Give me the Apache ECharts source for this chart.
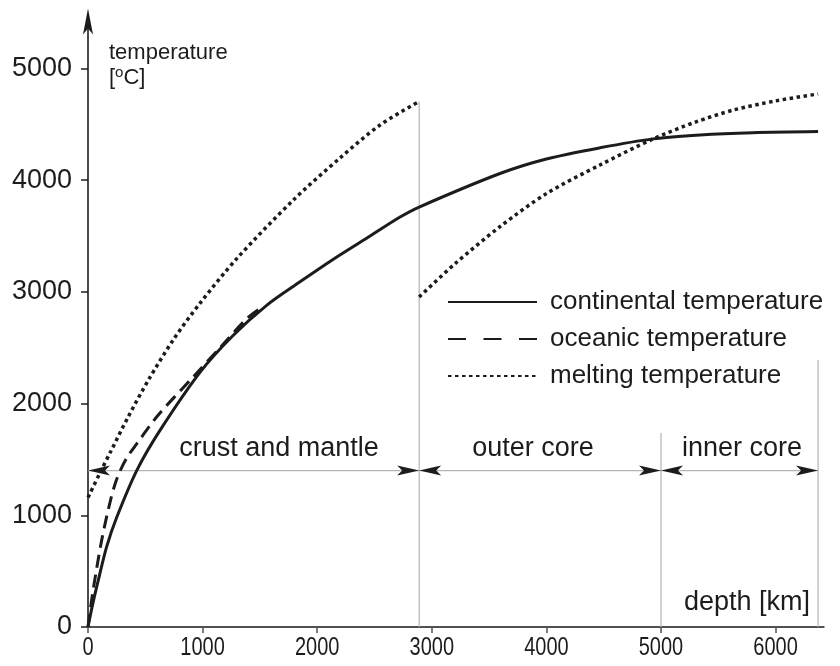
<!DOCTYPE html>
<html>
<head>
<meta charset="utf-8">
<script src="https://cdn.jsdelivr.net/npm/echarts@6/dist/echarts.min.js"></script>
<style>
  html, body { margin: 0; padding: 0; background: #fff; }
  #chart { width: 840px; height: 666px; }
</style>
</head>
<body>
<div id="chart"></div>
<script>
// Temperature profile through the Earth: depth in km, temperature in °C.
const depthTicks = [0, 1000, 2000, 3000, 4000, 5000, 6000];
const tempTicks = [0, 1000, 2000, 3000, 4000, 5000];

const continentalDepth = [0, 40, 90, 163, 250, 425, 628, 977, 1266, 1559, 1850, 2138, 2431, 2723, 2890, 3595, 4000, 4467, 4930, 5340, 5800, 6371];
const continentalTemp  = [0, 200, 420, 720, 980, 1400, 1760, 2280, 2610, 2880, 3090, 3290, 3480, 3670, 3760, 4060, 4190, 4290, 4370, 4405, 4425, 4435];

const oceanicDepth = [0, 40, 120, 200, 253, 330, 425, 615, 919, 1152, 1385, 1500];
const oceanicTemp  = [0, 300, 780, 1150, 1330, 1500, 1640, 1900, 2240, 2500, 2760, 2850];

const mantleMeltDepth = [0, 100, 200, 350, 530, 750, 977, 1300, 1792, 2200, 2548, 2890];
const mantleMeltTemp  = [1160, 1370, 1575, 1880, 2216, 2580, 2898, 3300, 3823, 4200, 4494, 4705];

const coreMeltDepth = [2890, 3200, 3595, 4000, 4467, 4930, 5300, 5630, 6000, 6371];
const coreMeltTemp  = [2954, 3250, 3584, 3880, 4136, 4369, 4520, 4628, 4710, 4772];

// Layer boundaries (depth) and how far up each boundary line reaches (temperature)
const boundaryDepth = [2890, 5000, 6371];
const boundaryTop = [4705, 1737, 2390];
// Level of the horizontal dimension line marking the layers
const layerLineTemp = 1400;
// Arrowheads on the dimension line: depth of the tip, direction (-1 left, +1 right)
const arrowDepth = [0, 2890, 2890, 5000, 5000, 6371];
const arrowDir = [-1, 1, -1, 1, -1, 1];

const layerNames = ['crust and mantle', 'outer core', 'inner core'];
const seriesNames = ['continental temperature', 'oceanic temperature', 'melting temperature'];

const ARIAL = "'Liberation Sans', Arial, Helvetica, sans-serif";
const INK = '#1e1b1c';
const GREY = '#b4b4b4';

const zip = (xs, ys) => xs.map((x, i) => [x, ys[i]]);

const chart = echarts.init(document.getElementById('chart'), null, { renderer: 'canvas' });

const greyLines = boundaryDepth.map((d, i) => ({
  type: 'line', silent: true, symbol: 'none', z: 1,
  lineStyle: { color: GREY, width: 1.2 },
  data: [[d, 0], [d, boundaryTop[i]]]
}));
greyLines.push({
  type: 'line', silent: true, symbol: 'none', z: 1,
  lineStyle: { color: GREY, width: 1.4 },
  data: [[0, layerLineTemp], [boundaryDepth[boundaryDepth.length - 1], layerLineTemp]]
});

const curve = (name, xs, ys, z, lineStyle) => ({
  name, type: 'line', symbol: 'none', smooth: 0.3, z,
  lineStyle: Object.assign({ color: INK }, lineStyle),
  itemStyle: { color: INK },
  data: zip(xs, ys)
});
const dotted = { width: 3.5, type: [3.5, 3.5], cap: 'butt' };

const staticText = [
  {
    type: 'text', left: 109, top: 40, silent: true,
    style: {
      text: 'temperature\n[{sup|o}C]',
      font: '22px ' + ARIAL, fill: INK, lineHeight: 25,
      rich: { sup: { fontSize: 15, fontFamily: ARIAL, verticalAlign: 'top', lineHeight: 25, fill: INK } }
    }
  },
  { type: 'text', silent: true, style: { text: layerNames[0], x: 279, y: 449, font: '27px ' + ARIAL, fill: INK, align: 'center', verticalAlign: 'middle' } },
  { type: 'text', silent: true, style: { text: layerNames[1], x: 533, y: 449, font: '27px ' + ARIAL, fill: INK, align: 'center', verticalAlign: 'middle' } },
  { type: 'text', silent: true, style: { text: layerNames[2], x: 742, y: 449, font: '27px ' + ARIAL, fill: INK, align: 'center', verticalAlign: 'middle' } },
  { type: 'text', silent: true, style: { text: 'depth [km]', x: 810, y: 603, font: '27px ' + ARIAL, fill: INK, align: 'right', verticalAlign: 'middle' } }
];

const option = {
  backgroundColor: '#fff',
  animation: false,
  grid: { left: 88, right: 16.3, top: 21.6, bottom: 39, containLabel: false },
  xAxis: {
    type: 'value', min: 0, max: 6420, interval: 1000,
    splitLine: { show: false },
    axisLine: { lineStyle: { color: '#505050', width: 2 } },
    axisTick: { length: 6, customValues: depthTicks, lineStyle: { color: '#505050', width: 1.5 } },
    // depth labels are drawn condensed below, positioned with the axis scale
    axisLabel: { show: false }
  },
  yAxis: {
    type: 'value', min: 0, max: 5420, interval: 1000,
    splitLine: { show: false },
    axisLine: {
      onZero: false,
      lineStyle: { color: INK, width: 1.6 },
      symbol: ['none', 'path://M5,0 L10,26 L5,20 L0,26 Z'],
      symbolSize: [10, 26]
    },
    axisTick: { length: 7, customValues: tempTicks, lineStyle: { color: INK, width: 1.5 } },
    axisLabel: {
      customValues: tempTicks, margin: 16, color: INK, fontFamily: ARIAL, fontSize: 27,
      formatter: v => String(v)
    }
  },
  legend: {
    orient: 'vertical', left: 447, top: 289, padding: 0,
    itemWidth: 89, itemHeight: 20, itemGap: 11,
    selectedMode: false,
    itemStyle: { opacity: 0 },
    textStyle: { fontFamily: ARIAL, fontSize: 26, color: INK, padding: [0, 0, 0, 8] },
    data: [
      { name: seriesNames[0] },
      { name: seriesNames[1], lineStyle: { type: [18, 17.5] } },
      { name: seriesNames[2] }
    ]
  },
  series: [
    ...greyLines,
    curve(seriesNames[0], continentalDepth, continentalTemp, 5, { width: 3 }),
    curve(seriesNames[1], oceanicDepth, oceanicTemp, 4, { width: 3, type: [13, 7] }),
    curve(seriesNames[2], mantleMeltDepth, mantleMeltTemp, 4, dotted),
    curve(seriesNames[2], coreMeltDepth, coreMeltTemp, 4, dotted),
    {
      // arrowheads of the layer dimension line
      type: 'custom', silent: true, z: 6, clip: false,
      encode: { x: 0, y: 1 },
      data: arrowDepth.map((d, i) => [d, layerLineTemp, arrowDir[i]]),
      renderItem: function (params, api) {
        const p = api.coord([api.value(0), api.value(1)]);
        const dir = api.value(2);
        const len = 22, half = 5, notch = 17;
        return {
          type: 'polygon',
          shape: { points: [
            [p[0], p[1]],
            [p[0] - dir * len, p[1] - half],
            [p[0] - dir * notch, p[1]],
            [p[0] - dir * len, p[1] + half]
          ] },
          style: { fill: INK }
        };
      }
    }
  ],
  graphic: staticText
};

chart.setOption(option);

// Condensed depth tick labels, placed through the x axis scale
const baseY = chart.convertToPixel({ yAxisIndex: 0 }, 0);
const depthLabels = depthTicks.map(v => ({
  type: 'text', silent: true,
  x: chart.convertToPixel({ xAxisIndex: 0 }, v), y: baseY + 21,
  scaleX: 0.8,
  style: { text: String(v), x: 0, y: 0, font: '25px ' + ARIAL, fill: INK, align: 'center', verticalAlign: 'middle' }
}));
chart.setOption({ graphic: staticText.concat(depthLabels) });
</script>
</body>
</html>
